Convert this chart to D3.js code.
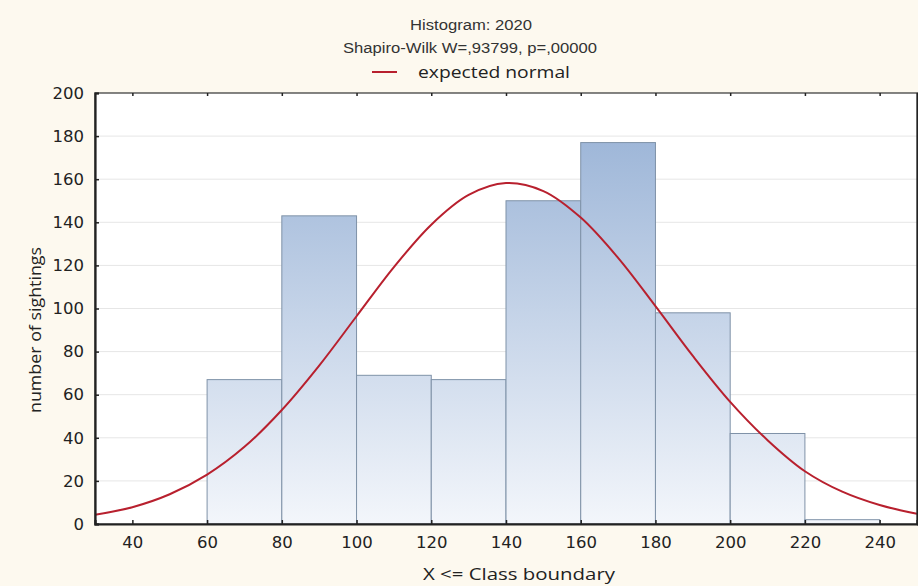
<!DOCTYPE html>
<html>
<head>
<meta charset="utf-8">
<script src="https://cdn.jsdelivr.net/npm/d3@7"></script>
<style>
  html, body { margin: 0; padding: 0; background: #fdf9ef; }
  svg { display: block; }
</style>
</head>
<body>
<svg id="chart" width="918" height="586"></svg>
<script>
// Class boundaries and counts per class
const binStarts = [60, 80, 100, 120, 140, 160, 180, 200, 220];
const binEnds   = [80, 100, 120, 140, 160, 180, 200, 220, 240];
const counts    = [67, 143, 69, 67, 150, 177, 98, 42, 2];

// Expected normal curve, sampled along the x axis
const normalX = [30, 40, 50, 60, 70, 80, 90, 100, 110, 120, 130, 140, 150, 160, 170, 180, 190, 200, 210, 220, 230, 240, 250];
const normalY = [4.3, 7.8, 13.8, 22.9, 35.8, 52.9, 73.5, 96.4, 119.2, 138.9, 152.7, 158.2, 154.5, 142.2, 123.5, 101.1, 78.0, 56.7, 38.9, 24.5, 15.0, 8.8, 4.7];

const xTicks = [40, 60, 80, 100, 120, 140, 160, 180, 200, 220, 240];
const yTicks = [0, 20, 40, 60, 80, 100, 120, 140, 160, 180, 200];

const titleText = "Histogram: 2020";
const subtitleText = "Shapiro-Wilk W=,93799, p=,00000";
const legendText = "expected normal";
const xLabel = "X <= Class boundary";
const yLabel = "number of sightings";

const svg = d3.select("#chart");
const W = 918, H = 586;
const plot = { left: 95, right: 917, top: 93, bottom: 524 };
const ink = "#222";
const curveColor = "#b8202e";

svg.append("rect").attr("width", W).attr("height", H).attr("fill", "#fdf9ef");

const x = d3.scaleLinear().domain([30, 250]).range([plot.left, plot.right]);
const y = d3.scaleLinear().domain([0, 200]).range([plot.bottom, plot.top]);

// plot background
svg.append("rect")
  .attr("x", plot.left).attr("y", plot.top)
  .attr("width", plot.right - plot.left).attr("height", plot.bottom - plot.top)
  .attr("fill", "#ffffff");

const defs = svg.append("defs");
const grad = defs.append("linearGradient")
  .attr("id", "barFill")
  .attr("gradientUnits", "userSpaceOnUse")
  .attr("x1", 0).attr("x2", 0)
  .attr("y1", y(0)).attr("y2", y(200));
grad.append("stop").attr("offset", "0%").attr("stop-color", "#f3f6fb");
grad.append("stop").attr("offset", "100%").attr("stop-color", "#94afd4");

defs.append("clipPath").attr("id", "plotClip")
  .append("rect")
  .attr("x", plot.left).attr("y", plot.top)
  .attr("width", plot.right - plot.left).attr("height", plot.bottom - plot.top);

// horizontal grid
svg.append("g")
  .selectAll("line")
  .data(yTicks.filter(d => d > 0 && d < 200))
  .join("line")
  .attr("x1", plot.left).attr("x2", plot.right)
  .attr("y1", d => y(d)).attr("y2", d => y(d))
  .attr("stroke", "#e6e6e6").attr("stroke-width", 1);

// bars
svg.append("g")
  .selectAll("rect")
  .data(counts.map((c, i) => ({ x0: binStarts[i], x1: binEnds[i], v: c })))
  .join("rect")
  .attr("x", d => x(d.x0))
  .attr("y", d => y(d.v))
  .attr("width", d => x(d.x1) - x(d.x0))
  .attr("height", d => y(0) - y(d.v))
  .attr("fill", "url(#barFill)")
  .attr("stroke", "#7f92a8")
  .attr("stroke-width", 1);

// expected normal curve
const line = d3.line()
  .x((d, i) => x(normalX[i]))
  .y(d => y(d))
  .curve(d3.curveCatmullRom.alpha(0.5));
svg.append("path")
  .datum(normalY)
  .attr("clip-path", "url(#plotClip)")
  .attr("d", line)
  .attr("fill", "none")
  .attr("stroke", curveColor)
  .attr("stroke-width", 2);

// frame
svg.append("rect")
  .attr("x", plot.left).attr("y", plot.top)
  .attr("width", plot.right - plot.left).attr("height", plot.bottom - plot.top)
  .attr("fill", "none").attr("stroke", "#333").attr("stroke-width", 1.2);

// axes
const tickFont = "'DejaVu Sans', sans-serif";
const xAxis = d3.axisBottom(x).tickValues(xTicks).tickSize(-4).tickPadding(12);
const gx = svg.append("g").attr("transform", `translate(0,${plot.bottom})`).call(xAxis);
gx.select(".domain").attr("stroke", ink).attr("stroke-width", 2.2);
gx.selectAll(".tick line").attr("stroke", ink).attr("stroke-width", 1.5);
gx.selectAll("text")
  .attr("font-family", tickFont).attr("font-size", 16.5)
  .attr("fill", ink);

const yAxis = d3.axisLeft(y).tickValues(yTicks).tickSize(-4).tickPadding(11);
const gy = svg.append("g").attr("transform", `translate(${plot.left},0)`).call(yAxis);
gy.select(".domain").attr("stroke", ink).attr("stroke-width", 2.2);
gy.selectAll(".tick line").attr("stroke", ink).attr("stroke-width", 1.5);
gy.selectAll("text")
  .attr("font-family", tickFont).attr("font-size", 16.5)
  .attr("fill", ink);

// small ticks along top and right edges
const gTop = svg.append("g").attr("transform", `translate(0,${plot.top})`)
  .call(d3.axisTop(x).tickValues(xTicks).tickSize(-3).tickFormat(""));
gTop.select(".domain").remove();
gTop.selectAll(".tick line").attr("stroke", ink).attr("stroke-width", 1.5);
const gRight = svg.append("g").attr("transform", `translate(${plot.right},0)`)
  .call(d3.axisRight(y).tickValues(yTicks).tickSize(3).tickFormat(""));
gRight.select(".domain").attr("stroke", ink).attr("stroke-width", 1.5);
gRight.selectAll(".tick line").attr("stroke", ink).attr("stroke-width", 1.5);

// helper for stretched label text
function label(xPos, yPos, str, opts) {
  const t = svg.append("text")
    .attr("x", xPos).attr("y", yPos)
    .attr("text-anchor", opts.anchor || "middle")
    .attr("font-family", opts.family)
    .attr("font-size", opts.size)
    .attr("fill", opts.fill || ink)
    .attr("textLength", opts.length)
    .attr("lengthAdjust", "spacingAndGlyphs")
    .text(str);
  if (opts.transform) t.attr("transform", opts.transform);
  return t;
}

const sans = "'Liberation Sans', Arial, sans-serif";
const humanist = "'Open Sans', sans-serif";

// titles
label(471, 30, titleText, { family: sans, size: 14, fill: "#333", length: 122 });
label(470, 53, subtitleText, { family: sans, size: 14, fill: "#333", length: 254 });

// legend
svg.append("line")
  .attr("x1", 372).attr("x2", 397).attr("y1", 72).attr("y2", 72)
  .attr("stroke", curveColor).attr("stroke-width", 2);
label(418, 77.5, legendText, { family: humanist, size: 17, anchor: "start", length: 152 });

// axis titles
label(519, 580, xLabel, { family: humanist, size: 17, length: 192 });
label(0, 0, yLabel, { family: humanist, size: 17, length: 166, transform: "translate(41,330) rotate(-90)" });
</script>
</body>
</html>
